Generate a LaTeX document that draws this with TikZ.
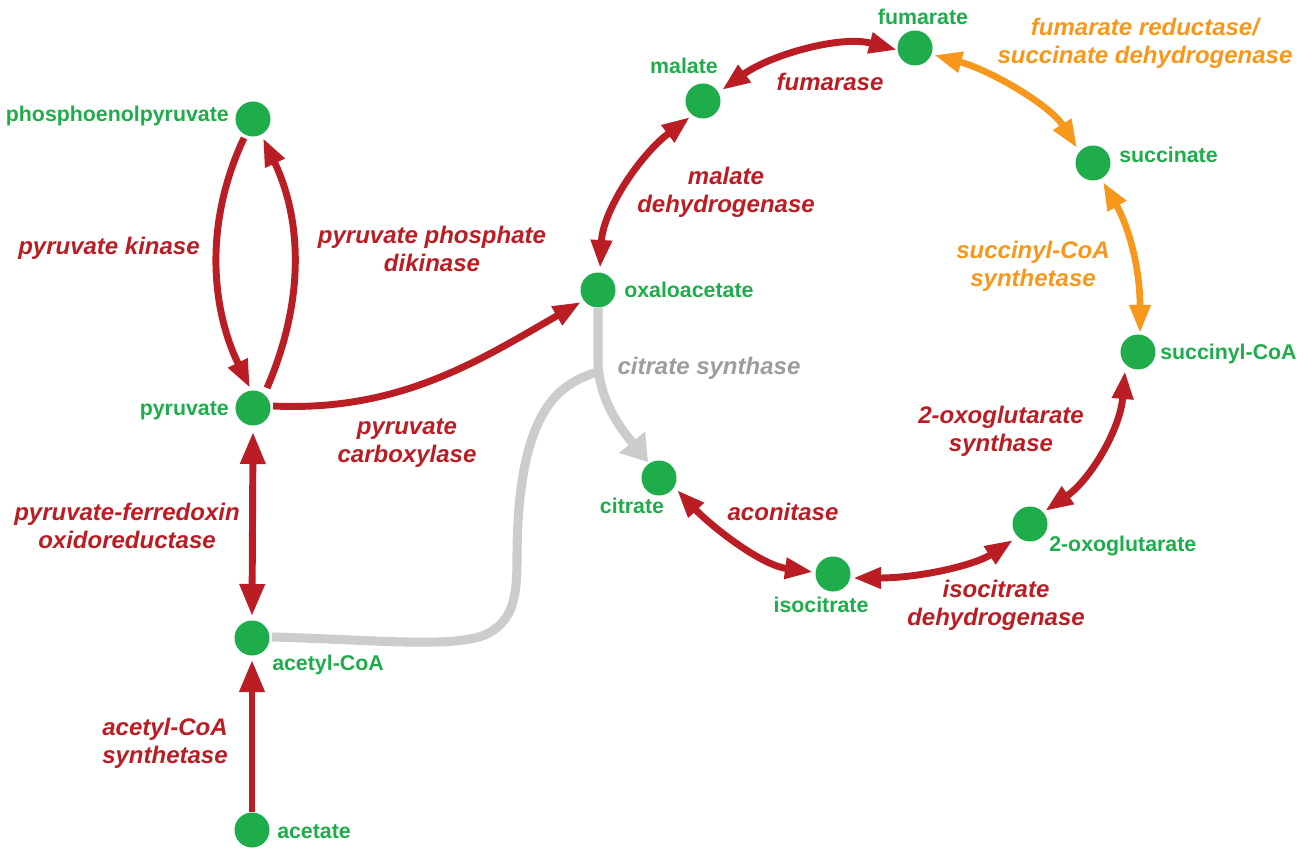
\documentclass[tikz,border=0pt]{standalone}
\usepackage{fontspec}
\setmainfont{Liberation Sans}
\usetikzlibrary{arrows.meta}
\definecolor{mgreen}{HTML}{1FAD4B}
\definecolor{mred}{HTML}{BA1E24}
\definecolor{morange}{HTML}{F7981D}
\definecolor{mgrayline}{HTML}{CCCCCB}
\definecolor{mgraytext}{HTML}{9D9D9D}
\tikzset{
  redtip/.tip={Triangle[length=21pt,width=15pt]},
  bigtip/.tip={Triangle[length=24pt,width=18pt]},
  greytip/.tip={Triangle[length=19pt,width=24pt]},
  met/.style={circle,fill=mgreen,minimum size=26.25pt,inner sep=0pt},
  metlabel/.style={text=mgreen,font=\fontsize{16}{19}\selectfont\bfseries,inner sep=0pt},
  enz/.style={text=mred,font=\fontsize{18}{21}\selectfont\bfseries\itshape,inner sep=0pt,align=center,anchor=base},
  enzo/.style={enz,text=morange},
  enzg/.style={enz,text=mgraytext},
  rl/.style={draw=mred,line width=5.2pt},
  ol/.style={draw=morange,line width=5pt},
  gl/.style={draw=mgrayline,line width=6.8pt},
}
\begin{document}
\begin{tikzpicture}[x=0.75pt,y=-0.75pt]
\useasboundingbox[fill=white] (0,0) rectangle (1306,848);

% gray connectors (drawn first)
\coordinate (j) at (598,372);
\node[met] (oaa) at (598,290) {};
\node[met] (cit) at (659,478) {};
\node[met] (acoa) at (252,638) {};
\draw[gl] ([shift={(20,-1)}]acoa.center) .. controls (380,640) and (450,648) .. (485,635)
  .. controls (512,622) and (517,600) .. (517,560)
  .. controls (517,470) and (532,418) .. (560,392)
  .. controls (575,379) and (590,374) .. (j);
\draw[gl,-greytip] ([shift={(0,18)}]oaa.center) -- (598,360) .. controls (598,400) and (622,430) .. ([shift={(-11,-16)}]cit.center);

% metabolites
\node[met] (pep) at (253,119) {};
\node[met] (pyr) at (253,408) {};
\node[met] (ace) at (252,830) {};
\node[met] (mal) at (703,101) {};
\node[met] (fum) at (915,48) {};
\node[met] (suc) at (1093,163) {};
\node[met] (scoa) at (1138,352) {};
\node[met] (akg) at (1030,524) {};
\node[met] (icit) at (833,574) {};

% metabolite labels
\node[metlabel,anchor=base east] (lpep) at (229,122) {phosphoenolpyruvate};
\node[metlabel,anchor=base east] (lpyr) at (229,416) {pyruvate};
\node[metlabel,anchor=base west] (lacoa) at (272,670) {acetyl-CoA};
\node[metlabel,anchor=base west] (lace) at (277,838) {acetate};
\node[metlabel,anchor=base west] (loaa) at (624,298) {oxaloacetate};
\node[metlabel,anchor=base] (lmal) at (684,74) {malate};
\node[metlabel,anchor=base] (lfum) at (923,25) {fumarate};
\node[metlabel,anchor=base west] (lsuc) at (1119,163) {succinate};
\node[metlabel,anchor=base west] (lscoa) at (1160,359) {succinyl-CoA};
\node[metlabel,anchor=base west] (lakg) at (1049,551) {2-oxoglutarate};
\node[metlabel,anchor=base] (licit) at (821,612) {isocitrate};
\node[metlabel,anchor=base] (lcit) at (632,513) {citrate};

% red connectors
\draw[rl,-redtip] ([shift={(-9,19)}]pep.center) .. controls (203,225) and (212,310) .. ([shift={(-3,-20)}]pyr.center);
\draw[rl,-redtip] ([shift={(14,-20)}]pyr.center) .. controls (305,300) and (302,220) .. ([shift={(10,19)}]pep.center);
\draw[rl,-redtip] ([shift={(20,-2)}]pyr.center) .. controls (400,412) and (480,360) .. ([shift={(-17,12)}]oaa.center);
\draw[rl,bigtip-bigtip] ([shift={(0,24)}]pyr.center) -- ([shift={(0,-22)}]acoa.center);
\draw[rl,-bigtip] ([shift={(0,-18)}]ace.center) -- ([shift={(0,22)}]acoa.center);
\draw[rl,redtip-redtip] ([shift={(2,-22)}]oaa.center) .. controls (603,210) and (640,155) .. ([shift={(-13,16)}]mal.center);
\draw[rl,redtip-redtip] ([shift={(19,-11)}]mal.center) .. controls (770,55) and (840,35) .. ([shift={(-18,2)}]fum.center);
\draw[ol,redtip-redtip] ([shift={(19,7)}]fum.center) .. controls (990,70) and (1050,105) .. ([shift={(-16,-15)}]suc.center);
\draw[ol,redtip-redtip] ([shift={(10,19)}]suc.center) .. controls (1125,220) and (1140,260) .. ([shift={(2,-19)}]scoa.center);
\draw[rl,redtip-redtip] ([shift={(-13,19)}]scoa.center) .. controls (1120,430) and (1090,480) .. ([shift={(15,-13)}]akg.center);
\draw[rl,redtip-redtip] ([shift={(20,4)}]icit.center) .. controls (920,578) and (975,565) .. ([shift={(-17,16)}]akg.center);
\draw[rl,redtip-redtip] ([shift={(18,12)}]cit.center) .. controls (710,525) and (760,565) .. ([shift={(-20,-2)}]icit.center);

% enzyme labels (multi-line: coordinate is the baseline of the last line)
\node[enz] (epk) at (109,255) {pyruvate kinase};
\node[enz] (eppdk) at (432,272) {pyruvate phosphate\\dikinase};
\node[enz] (epc) at (407,462) {pyruvate\\carboxylase};
\node[enz] (epfor) at (127,548) {pyruvate-ferredoxin\\oxidoreductase};
\node[enz] (eacs) at (165,763) {acetyl-CoA\\synthetase};
\node[enz] (emdh) at (726,213) {malate\\dehydrogenase};
\node[enz] (efum) at (830,91) {fumarase};
\node[enzo] (efrd) at (1145,64) {fumarate reductase/\\succinate dehydrogenase};
\node[enzo] (escs) at (1033,287) {succinyl-CoA\\synthetase};
\node[enzg] (ecs) at (709,374) {citrate synthase};
\node[enz] (eogor) at (1001,451) {2-oxoglutarate\\synthase};
\node[enz] (eacn) at (783,520) {aconitase};
\node[enz] (eidh) at (996,625) {isocitrate\\dehydrogenase};
\end{tikzpicture}
\end{document}
